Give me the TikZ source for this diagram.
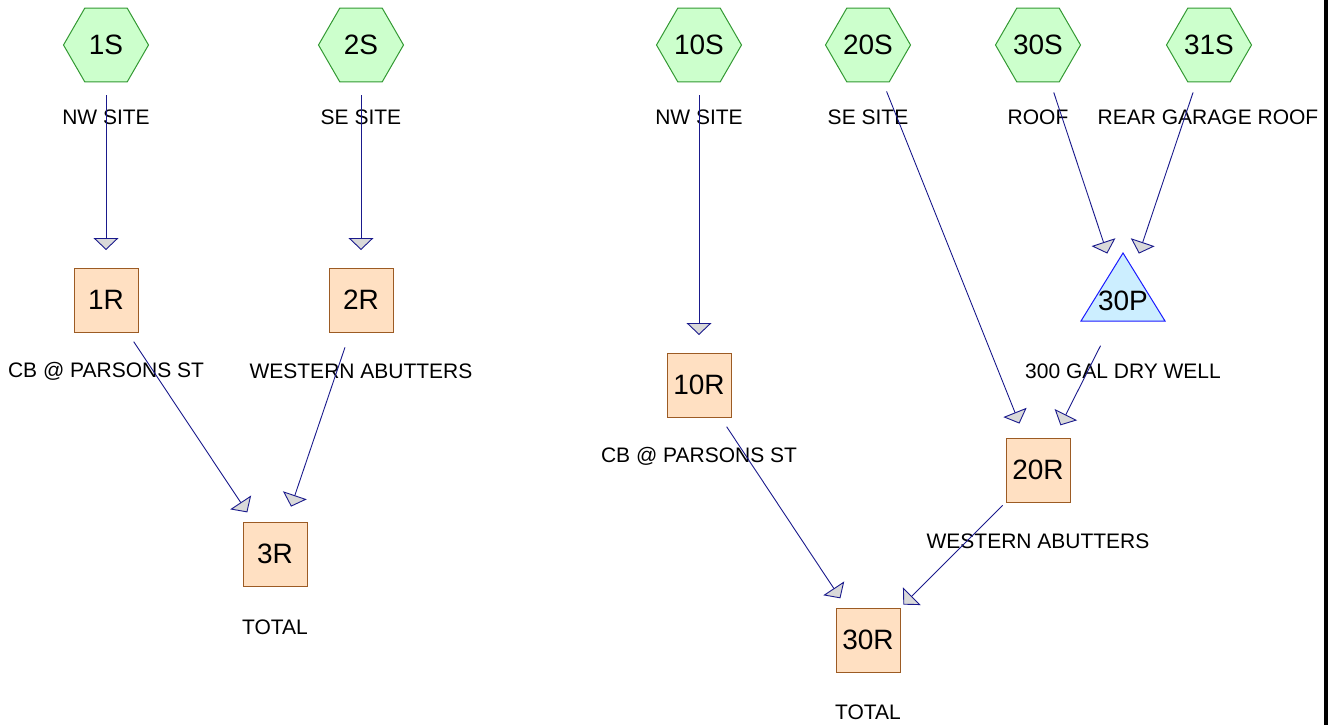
\documentclass[tikz,border=0pt]{standalone}
\usepackage{fontspec}
\setmainfont{Liberation Sans}
\usetikzlibrary{arrows.meta,shapes.geometric}
\definecolor{hexfill}{HTML}{CCFFCC}
\definecolor{hexline}{HTML}{339933}
\definecolor{boxfill}{HTML}{FFE0C2}
\definecolor{boxline}{HTML}{9C5B24}
\definecolor{pondfill}{HTML}{CCEEFF}
\definecolor{pondline}{HTML}{1A1AFF}
\definecolor{flowline}{HTML}{1A1A8C}
\definecolor{tipfill}{HTML}{D9D9D9}
\begin{document}
\begin{tikzpicture}[x=1pt,y=-1pt,
  subcat/.style={regular polygon, regular polygon sides=6, minimum size=85pt,
    inner sep=0pt, draw=hexline, fill=hexfill, line width=1pt,
    font={\fontsize{28}{30}\selectfont}},
  reach/.style={rectangle, minimum size=64pt, inner sep=0pt, draw=boxline,
    fill=boxfill, line width=1pt, font={\fontsize{28}{30}\selectfont}},
  pondshape/.style={draw=pondline, fill=pondfill, line width=1pt, line join=miter},
  pondtext/.style={inner sep=0pt, font={\fontsize{28}{30}\selectfont}},
  lbl/.style={inner sep=0pt, font={\fontsize{21}{24}\selectfont}},
  flow/.style={draw=flowline, line width=0.9pt, shorten <=50pt, shorten >=50pt,
    -{Triangle[length=12pt,width=25pt,fill=tipfill]}}
]
\useasboundingbox (0,0) rectangle (1333,725);

% subcatchments
\node[subcat] (1S)  at (106,45)  {1S};
\node[subcat] (2S)  at (361,45)  {2S};
\node[subcat] (10S) at (699,45)  {10S};
\node[subcat] (20S) at (868,45)  {20S};
\node[subcat] (30S) at (1038,45) {30S};
\node[subcat] (31S) at (1209,45) {31S};

% reaches
\node[reach] (1R)  at (106,300)  {1R};
\node[reach] (2R)  at (361,300)  {2R};
\node[reach] (3R)  at (275,554)  {3R};
\node[reach] (10R) at (699,385)  {10R};
\node[reach] (20R) at (1038,470) {20R};
\node[reach] (30R) at (868,640)  {30R};

% pond
\draw[pondshape] (1123,300) ++(0,-47) -- ++(42,68) -- ++(-84,0) -- cycle;
\node[pondtext] (30P) at (1123,301) {30P};

% labels
\node[lbl] (l1S)  at (106,117)  {NW SITE};
\node[lbl] (l2S)  at (361,117)  {SE SITE};
\node[lbl] (l10S) at (699,117)  {NW SITE};
\node[lbl] (l20S) at (868,117)  {SE SITE};
\node[lbl] (l30S) at (1038,117) {ROOF};
\node[lbl] (l31S) at (1208,117) {REAR GARAGE ROOF};
\node[lbl] (l1R)  at (106,371)  {CB @ PARSONS ST};
\node[lbl] (l2R)  at (361,371)  {WESTERN ABUTTERS};
\node[lbl] (l30P) at (1123,371) {300 GAL DRY WELL};
\node[lbl] (l10R) at (699,456)  {CB @ PARSONS ST};
\node[lbl] (l20R) at (1038,541) {WESTERN ABUTTERS};
\node[lbl] (l3R)  at (275,627)  {TOTAL};
\node[lbl] (l30R) at (868,712)  {TOTAL};

% routing
\draw[flow] (1S.center)  -- (1R.center);
\draw[flow] (2S.center)  -- (2R.center);
\draw[flow] (1R.center)  -- (3R.center);
\draw[flow] (2R.center)  -- (3R.center);
\draw[flow] (10S.center) -- (10R.center);
\draw[flow] (20S.center) -- (20R.center);
\draw[flow] (30S.center) -- (30P.center);
\draw[flow] (31S.center) -- (30P.center);
\draw[flow] (30P.center) -- (20R.center);
\draw[flow] (10R.center) -- (30R.center);
\draw[flow] (20R.center) -- (30R.center);

% page edge
\draw[line width=4pt] (1325.5,0) -- (1325.5,725);
\end{tikzpicture}
\end{document}
